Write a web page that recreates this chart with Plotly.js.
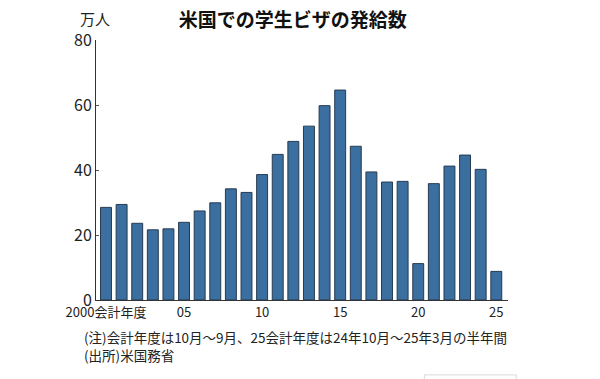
<!DOCTYPE html>
<html>
<head>
<meta charset="utf-8">
<script src="https://cdn.plot.ly/plotly-3.0.1.min.js"></script>
<style>
html,body{margin:0;padding:0;background:#fff;}
#chart{width:600px;height:379px;}
</style>
</head>
<body>
<div id="chart"></div>
<script>
const years = [2000,2001,2002,2003,2004,2005,2006,2007,2008,2009,2010,2011,2012,2013,2014,2015,2016,2017,2018,2019,2020,2021,2022,2023,2024,2025];
const visas = [28.5,29.4,23.6,21.6,21.9,23.9,27.4,29.9,34.2,33.1,38.6,44.8,48.8,53.5,59.8,64.6,47.3,39.4,36.3,36.5,11.2,35.8,41.2,44.6,40.2,8.8];
const xTickVals = [2000,2005,2010,2015,2020,2025];
const xTickText = ['2000会計年度','05','10','15','20','25'];
const yTickVals = [0,20,40,60,80];
const titleText = '米国での学生ビザの発給数';
const unitText = '万人';
const noteText = '(注)会計年度は10月～9月、25会計年度は24年10月～25年3月の半年間';
const sourceText = '(出所)米国務省';

const cjk = '"Noto Sans CJK JP", "Noto Sans", sans-serif';
const narrow = '"Liberation Sans Narrow", "Noto Sans CJK JP", sans-serif';

const trace = {
  type: 'bar',
  x: years,
  y: visas,
  width: 0.7,
  marker: {color: '#3b6fa0', line: {color: '#263b52', width: 1}},
  hoverinfo: 'x+y'
};

const layout = {
  width: 600, height: 379,
  margin: {l: 96, r: 92, t: 40, b: 79},
  paper_bgcolor: '#fff', plot_bgcolor: '#fff',
  showlegend: false,
  title: {text: '<b>' + titleText + '</b>', x: 0.488, xanchor: 'center', y: 0.945, yanchor: 'middle',
          font: {family: cjk, size: 19, color: '#111'}},
  xaxis: {
    range: [1999.36, 2025.75],
    tickmode: 'array', tickvals: xTickVals, ticktext: xTickText,
    ticks: '', showgrid: false, zeroline: false,
    showline: true, linecolor: '#333', linewidth: 1,
    tickfont: {family: narrow, size: 13, color: '#222'},
    fixedrange: true
  },
  yaxis: {
    range: [0, 80],
    tickmode: 'array', tickvals: yTickVals,
    ticks: 'inside', ticklen: 3, tickcolor: '#555',
    showgrid: false, zeroline: false,
    showline: true, linecolor: '#333', linewidth: 1,
    ticklabelstandoff: 0,
    tickfont: {family: narrow, size: 16, color: '#222'},
    fixedrange: true
  },
  annotations: [
    {text: unitText, xref: 'paper', yref: 'paper', x: -0.044, y: 1.082, xanchor: 'left', yanchor: 'middle',
     showarrow: false, font: {family: cjk, size: 15, color: '#222'}},
    {text: noteText, xref: 'paper', yref: 'paper', x: -0.034, y: -0.142, xanchor: 'left', yanchor: 'middle',
     showarrow: false, font: {family: cjk, size: 13.5, color: '#222'}},
    {text: sourceText, xref: 'paper', yref: 'paper', x: -0.034, y: -0.212, xanchor: 'left', yanchor: 'middle',
     showarrow: false, font: {family: cjk, size: 13.5, color: '#222'}}
  ],
  shapes: [
    {type: 'rect', xref: 'paper', yref: 'paper', x0: 0.797, x1: 1.02, y0: -0.31, y1: -0.288,
     line: {color: '#d8d8d8', width: 1}, fillcolor: 'rgba(0,0,0,0)'}
  ]
};

Plotly.newPlot('chart', [trace], layout, {displayModeBar: false, staticPlot: true});
</script>
</body>
</html>
